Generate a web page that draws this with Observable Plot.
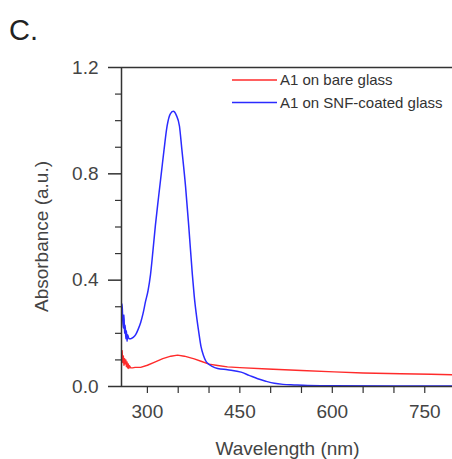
<!DOCTYPE html>
<html><head><meta charset="utf-8">
<script src="https://cdn.jsdelivr.net/npm/d3@7"></script>
<script src="https://cdn.jsdelivr.net/npm/@observablehq/plot@0.6"></script>
<style>body{margin:0;background:#fff;} svg{font-family:"Liberation Sans",Arial,sans-serif;}</style>
</head><body><div id="chart"></div>
<script>
const panelLabel = "C.";
const xTitle = "Wavelength (nm)";
const yTitle = "Absorbance (a.u.)";
const seriesNames = ["A1 on bare glass", "A1 on SNF-coated glass"];
const seriesColors = ["#ff2b2b", "#2b2bff"];
const xDomain = [258, 795];
const yDomain = [0, 1.2];
const xTicks = [300, 350, 400, 450, 500, 550, 600, 650, 700, 750];
const xLabelTicks = [300, 450, 600, 750];
const yTicks = [0, 0.4, 0.8, 1.2];
const yMinorTicks = [0.1, 0.2, 0.3, 0.5, 0.6, 0.7, 0.9, 1.0, 1.1];

const redWl  = [258,259,260,261,262,263,264,265,266,267,268,269,270,271,273,276,280,289,300,311,325,338,349,360,376,387,400,414,430,450,495,550,603,650,711,760,795];
const redAbs = [0.10,0.135,0.09,0.115,0.08,0.105,0.085,0.10,0.075,0.092,0.07,0.085,0.068,0.078,0.07,0.07,0.072,0.072,0.08,0.091,0.105,0.114,0.118,0.114,0.104,0.095,0.084,0.079,0.074,0.071,0.066,0.060,0.055,0.051,0.048,0.046,0.044];

const blueWl  = [258,259,260,261,262,263,264,265,266,267,268,270,273,277,281,285,289,293,297,301,305,309,313,318,323,327,332,337,342,347,352,356,362,367,373,376,380,383,387,391,395,400,405,414,430,452,465,479,492,506,520,538,560,600,700,795];
const blueAbs = [0.29,0.31,0.25,0.22,0.27,0.20,0.23,0.18,0.21,0.17,0.195,0.18,0.18,0.185,0.195,0.215,0.24,0.275,0.32,0.36,0.42,0.51,0.606,0.71,0.81,0.89,0.98,1.025,1.035,1.02,0.98,0.89,0.75,0.606,0.42,0.34,0.26,0.21,0.15,0.117,0.095,0.083,0.076,0.068,0.063,0.054,0.042,0.029,0.02,0.012,0.008,0.006,0.004,0.003,0.002,0.002];

const red = redWl.map((w, i) => ({wl: w, abs: redAbs[i]}));
const blue = blueWl.map((w, i) => ({wl: w, abs: blueAbs[i]}));

const W = 452, H = 459;
const plot = Plot.plot({
  width: W, height: H,
  marginLeft: 121, marginRight: 0, marginTop: 67, marginBottom: 73,
  style: {color: "#333", fontFamily: "Liberation Sans, Arial, sans-serif", background: "#fff"},
  x: {domain: xDomain},
  y: {domain: yDomain},
  marks: [
    Plot.line(red, {x: "wl", y: "abs", stroke: seriesColors[0], strokeWidth: 1.4, clip: true}),
    Plot.line(blue, {x: "wl", y: "abs", stroke: seriesColors[1], strokeWidth: 1.5, curve: "monotone-x", clip: true}),
    Plot.ruleX([xDomain[0]], {stroke: "#333", strokeWidth: 1.5}),
    Plot.ruleY([yDomain[0]], {stroke: "#333", strokeWidth: 1.5}),
    Plot.ruleY([yDomain[1]], {stroke: "#333", strokeWidth: 1.5}),
    Plot.axisY(yTicks, {tickSize: 13, tickPadding: 10, fontSize: 19, fill: "#444", strokeWidth: 1.5, tickFormat: d => d.toFixed(1), label: null}),
    Plot.axisY(yMinorTicks, {tickSize: 6, strokeWidth: 1.2, tickFormat: () => "", label: null}),
    Plot.axisX(xTicks, {tickSize: 7, tickPadding: 11, fontSize: 19, fill: "#444", strokeWidth: 1.2, tickFormat: d => xLabelTicks.includes(d) ? String(d) : "", label: null})
  ]
});
document.getElementById("chart").appendChild(plot);

const svg = d3.select(plot);
const sx = plot.scale("x"), sy = plot.scale("y");
svg.append("text").attr("x", 9).attr("y", 40).attr("text-anchor", "start").attr("font-size", 29).attr("fill", "#222").text(panelLabel);
svg.append("text").attr("x", (sx.range[0] + sx.range[1]) / 2 + 1).attr("y", 455)
  .attr("text-anchor", "middle").attr("font-size", 19).attr("fill", "#444").text(xTitle);
svg.append("text").attr("transform", `translate(48,${(sy.range[0] + sy.range[1]) / 2 + 10}) rotate(-90)`)
  .attr("text-anchor", "middle").attr("font-size", 19).attr("fill", "#444").text(yTitle);
const lg = svg.append("g").attr("font-size", 15).attr("fill", "#333").attr("text-anchor", "start");
seriesNames.forEach((name, i) => {
  const y = 80 + i * 22.5;
  lg.append("line").attr("x1", 232).attr("x2", 277).attr("y1", y).attr("y2", y).attr("stroke", seriesColors[i]).attr("stroke-width", 1.4);
  lg.append("text").attr("x", 280).attr("y", y).attr("dy", "0.35em").attr("text-anchor", "start").text(name);
});
</script></body></html>
